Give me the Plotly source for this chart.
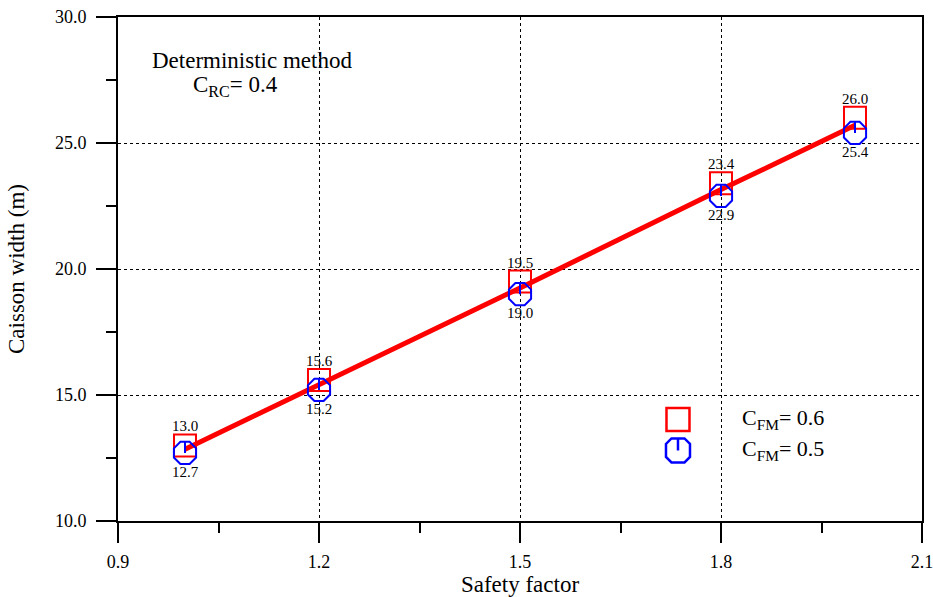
import plotly.graph_objects as go

safety_factor = [1.0, 1.2, 1.5, 1.8, 2.0]
width_cfm06 = [13.0, 15.6, 19.5, 23.4, 26.0]
width_cfm05 = [12.7, 15.2, 19.0, 22.9, 25.4]
trend_line = [12.85, 15.4, 19.25, 23.15, 25.7]

x_ticks = [0.9, 1.2, 1.5, 1.8, 2.1]
y_ticks = [10.0, 15.0, 20.0, 25.0, 30.0]
x_minor = [1.05, 1.35, 1.65, 1.95]
y_minor = [12.5, 17.5, 22.5, 27.5]

FONT = "Liberation Serif"
RED = "#ff0000"
BLUE = "#0000ff"

fig = go.Figure()

fig.add_trace(go.Scatter(
    x=safety_factor, y=trend_line, mode="lines",
    line=dict(color=RED, width=5), showlegend=False, hoverinfo="skip"))

fig.add_trace(go.Scatter(
    x=safety_factor, y=width_cfm06, mode="markers", showlegend=False,
    marker=dict(symbol="square-open", size=22, color=RED, line=dict(width=2, color=RED))))

fig.add_trace(go.Scatter(
    x=safety_factor, y=width_cfm05, mode="markers", showlegend=False,
    marker=dict(symbol="octagon-open", size=24, color=BLUE, line=dict(width=2, color=BLUE)),
    error_y=dict(type="data", symmetric=False, array=[0.45] * len(width_cfm05),
                 arrayminus=[0] * len(width_cfm05), width=0, thickness=2, color=BLUE)))

# value labels
for xv, yv in zip(safety_factor, width_cfm06):
    fig.add_annotation(x=xv, y=yv, text=f"{yv:.1f}", showarrow=False, yshift=19,
                       font=dict(family=FONT, size=15, color="black"))
for xv, yv in zip(safety_factor, width_cfm05):
    fig.add_annotation(x=xv, y=yv, text=f"{yv:.1f}", showarrow=False, yshift=-19,
                       font=dict(family=FONT, size=15, color="black"))

fig.update_xaxes(
    range=[0.9, 2.1], tickmode="array", tickvals=x_ticks, ticktext=[f"{v:.1f}" for v in x_ticks],
    tickfont=dict(family=FONT, size=18, color="black"), ticklabelstandoff=3,
    ticklabeloverflow="allow",
    showline=True, linecolor="black", linewidth=2, mirror=True,
    ticks="outside", ticklen=20, tickwidth=2, tickcolor="black",
    showgrid=True, gridcolor="black", gridwidth=1, griddash="dot",
    zeroline=False, automargin=False,
    title=dict(text="Safety factor", font=dict(family=FONT, size=23, color="black"), standoff=0),
    minor=dict(tickvals=x_minor, ticks="outside", ticklen=10, tickwidth=2,
               tickcolor="black", showgrid=False))

fig.update_yaxes(
    range=[10, 30], tickmode="array", tickvals=y_ticks, ticktext=[f"{v:.1f}" for v in y_ticks],
    tickfont=dict(family=FONT, size=18, color="black"), ticklabelstandoff=6,
    showline=True, linecolor="black", linewidth=2, mirror=True,
    ticks="outside", ticklen=20, tickwidth=2, tickcolor="black",
    showgrid=True, gridcolor="black", gridwidth=1, griddash="dot",
    zeroline=False, automargin=False,
    title=dict(text="Caisson width (m)", font=dict(family=FONT, size=23, color="black"), standoff=24),
    minor=dict(tickvals=y_minor, ticks="outside", ticklen=10, tickwidth=2,
               tickcolor="black", showgrid=False))

# annotations
fig.add_annotation(xref="paper", yref="paper", x=0.1667, y=0.913, xanchor="center", yanchor="middle",
                   text="Deterministic method", showarrow=False,
                   font=dict(family=FONT, size=23, color="black"))
fig.add_annotation(xref="paper", yref="paper", x=0.0908, y=0.864, xanchor="left", yanchor="middle",
                   text="C<sub>RC</sub>= 0.4", showarrow=False,
                   font=dict(family=FONT, size=23, color="black"))

# custom legend (paper-anchored, pixel-sized symbols)
leg_x = 0.6965
leg_y1 = 0.2014
leg_y2 = 0.1399
fig.add_shape(type="rect", xref="paper", yref="paper", xsizemode="pixel", ysizemode="pixel",
              xanchor=leg_x, yanchor=leg_y1, x0=-11.5, x1=11.5, y0=-11.5, y1=11.5,
              line=dict(color=RED, width=2.5), fillcolor="rgba(0,0,0,0)")
r1, r2 = 12.0, 6.5
octa = f"M {r1},{r2} L {r2},{r1} L {-r2},{r1} L {-r1},{r2} L {-r1},{-r2} L {-r2},{-r1} L {r2},{-r1} L {r1},{-r2} Z"
fig.add_shape(type="path", xref="paper", yref="paper", xsizemode="pixel", ysizemode="pixel",
              xanchor=leg_x, yanchor=leg_y2, path=octa,
              line=dict(color=BLUE, width=2.5), fillcolor="rgba(0,0,0,0)")
fig.add_shape(type="line", xref="paper", yref="paper", xsizemode="pixel", ysizemode="pixel",
              xanchor=leg_x, yanchor=leg_y2, x0=0, x1=0, y0=0, y1=12,
              line=dict(color=BLUE, width=2.5))
fig.add_annotation(xref="paper", yref="paper", x=0.7736, y=leg_y1, xanchor="left", yanchor="middle",
                   text="C<sub>FM</sub>= 0.6", showarrow=False,
                   font=dict(family=FONT, size=22, color="black"))
fig.add_annotation(xref="paper", yref="paper", x=0.7736, y=leg_y2, xanchor="left", yanchor="middle",
                   text="C<sub>FM</sub>= 0.5", showarrow=False,
                   font=dict(family=FONT, size=22, color="black"))

fig.update_layout(
    width=933, height=597,
    margin=dict(l=118, r=11, t=17, b=76),
    plot_bgcolor="white", paper_bgcolor="white",
    font=dict(family=FONT, color="black"),
    showlegend=False,
)

fig.write_html(
    "out.html",
    config={"displayModeBar": False},
    post_script="document.body.style.margin='0';document.body.style.padding='0';"
                "document.body.style.overflow='hidden';",
)
